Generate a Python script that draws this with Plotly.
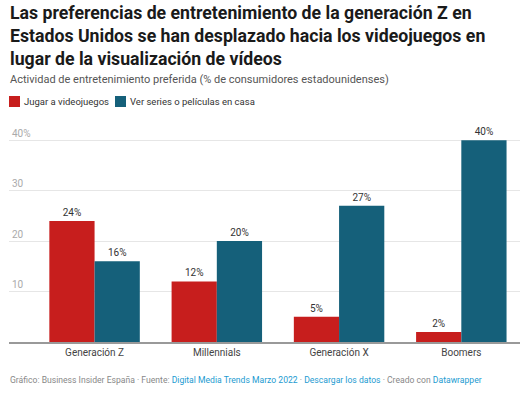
import plotly.graph_objects as go

categories = ["Generación Z", "Millennials", "Generación X", "Boomers"]
videojuegos = [24, 12, 5, 2]
series_peliculas = [16, 20, 27, 40]
y_tickvals = [10, 20, 30, 40]
y_ticktext = ["10", "20", "30", "40%"]
legend_names = ["Jugar a videojuegos", "Ver series o películas en casa"]

RED = "#c71e1d"
TEAL = "#15607a"
FONT = "Roboto"

W, H = 527, 395
ML, MR, MT, MB = 9, 7, 125, 53
PW, PH = W - ML - MR, H - MT - MB


def px(x):
    return (x - ML) / PW


def py(y):
    return (H - MB - y) / PH


fig = go.Figure()
for name, vals, col in [(legend_names[0], videojuegos, RED), (legend_names[1], series_peliculas, TEAL)]:
    fig.add_trace(go.Bar(
        x=categories, y=vals, name=name,
        marker=dict(color=col, line=dict(width=0)),
        text=[f"{v}%" for v in vals], textposition="outside",
        textfont=dict(size=10, color="#333333", family=FONT), cliponaxis=False,
        hoverinfo="skip",
    ))

fig.update_layout(
    width=W, height=H,
    margin=dict(l=ML, r=MR, t=MT, b=MB, autoexpand=False),
    paper_bgcolor="white", plot_bgcolor="white",
    font=dict(family=FONT, color="#333333"),
    barmode="group", bargap=0.26, bargroupgap=0,
    showlegend=False,
    uniformtext=dict(minsize=8, mode="show"),
)
fig.update_xaxes(
    type="category", range=[-0.7, 3.48],
    showgrid=False, showline=True, linecolor="#999999", linewidth=2,
    ticks="", tickfont=dict(size=10, color="#444444"),
)
fig.update_yaxes(
    range=[0, 43], tickvals=y_tickvals, ticktext=y_ticktext,
    ticklabelposition="inside top", tickfont=dict(size=10, color="#aaaaaa"),
    showgrid=True, gridcolor="#e6e6e6", gridwidth=1, zeroline=False,
    showline=False, ticks="",
)

# Title
fig.add_annotation(
    text="<b>Las preferencias de entretenimiento de la generación Z en<br>Estados Unidos se han desplazado hacia los videojuegos en<br>lugar de la visualización de vídeos</b>",
    xref="paper", yref="paper", x=px(9), y=py(2), xanchor="left", yanchor="top",
    align="left", showarrow=False, borderpad=0,
    font=dict(size=17.7, color="#1a1a1a", family=FONT),
)
# Subtitle
fig.add_annotation(
    text="Actividad de entretenimiento preferida (% de consumidores estadounidenses)",
    xref="paper", yref="paper", x=px(9), y=py(79), xanchor="left", yanchor="middle",
    showarrow=False, borderpad=0, font=dict(size=11, color="#555555"),
)
# Legend (manual)
legend_items = [(legend_names[0], RED, 9, 23), (legend_names[1], TEAL, 115, 129)]
for name, col, sx, tx in legend_items:
    fig.add_shape(type="rect", xref="paper", yref="paper",
                  x0=px(sx), x1=px(sx + 11), y0=py(107), y1=py(96),
                  fillcolor=col, line=dict(width=0))
    fig.add_annotation(text=name, xref="paper", yref="paper", x=px(tx), y=py(101.5),
                       xanchor="left", yanchor="middle", showarrow=False, borderpad=0,
                       font=dict(size=9.5, color="#333333"))
# Footer
fig.add_annotation(
    text="Gráfico: Business Insider España · Fuente: <span style='color:#1d9bd1'>Digital Media Trends Marzo 2022</span> · <span style='color:#1d9bd1'>Descargar los datos</span> · Creado con <span style='color:#1d9bd1'>Datawrapper</span>",
    xref="paper", yref="paper", x=px(9), y=py(380), xanchor="left", yanchor="middle",
    showarrow=False, borderpad=0, font=dict(size=8.6, color="#888888"),
)

fig.write_html("out.html", config={"displayModeBar": False},
               post_script="document.body.style.margin='0';")
